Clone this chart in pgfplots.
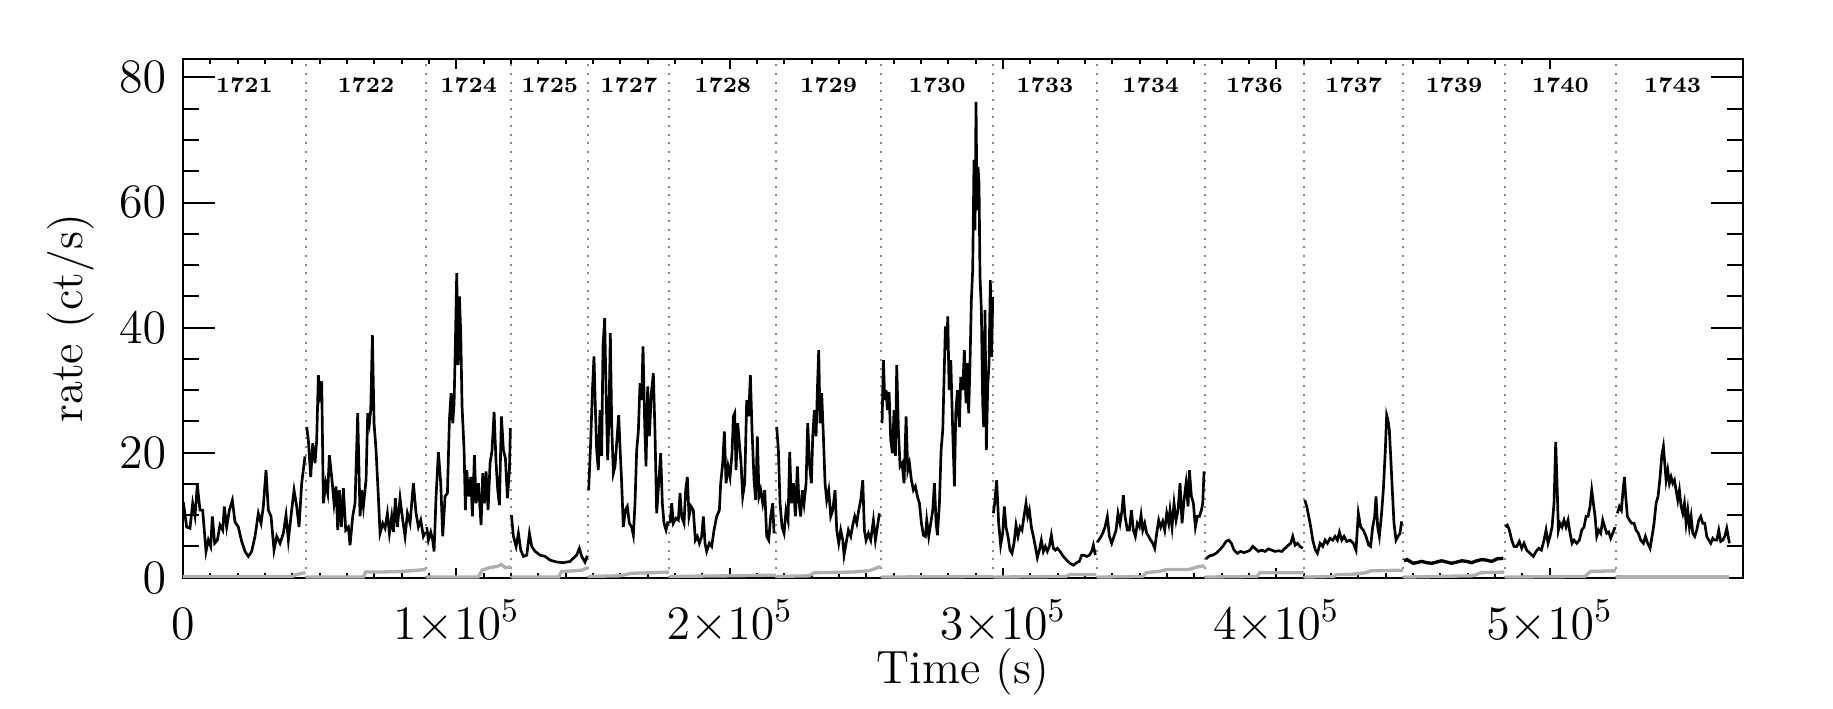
\documentclass[border=0pt]{standalone}
\usepackage{pgfplots}
\pgfplotsset{compat=1.18}
\definecolor{bkg}{RGB}{175,175,175}
\definecolor{sep}{RGB}{135,135,135}
\begin{document}
\begin{tikzpicture}
\useasboundingbox (-54.9pt,-39.1pt) rectangle (495pt,173.3pt);
\begin{axis}[
  scale only axis, width=468pt, height=155.7pt,
  xmin=0, xmax=570800, ymin=0, ymax=83,
  xtick={0,100000,200000,300000,400000,500000},
  xticklabels={$0$,$1{\times}10^5$,$2{\times}10^5$,$3{\times}10^5$,$4{\times}10^5$,$5{\times}10^5$},
  ytick={0,20,40,60,80}, minor x tick num=9, minor y tick num=3,
  tick align=inside,
  axis line style={line width=0.6pt},
  every tick/.append style={black, line width=0.6pt},
  xtick style={/pgfplots/major tick length=3pt, /pgfplots/minor tick length=1.5pt},
  ytick style={/pgfplots/major tick length=9.6pt, /pgfplots/minor tick length=4.8pt},
  tick label style={font=\fontsize{14}{16}\selectfont},
  xticklabel style={anchor=base, yshift=-18.5pt},
  yticklabel style={xshift=-1.5pt},
  xlabel={Time (s)}, ylabel={rate (ct/s)},
  label style={font=\fontsize{14}{16}\selectfont},
  xlabel style={at={(axis description cs:0.5,-0.182)}, anchor=center},
  ylabel style={at={(axis description cs:-0.072,0.5)}, anchor=center},
  clip=false]

% obsid boundaries
\pgfplotsinvokeforeach{44900,89000,120100,148300,178000,217000,255400,296400,334300,373900,410200,446500,483600,524400}{
  \addplot[sep, line width=0.6pt, dash pattern=on 0.6pt off 2pt] coordinates {(#1,0) (#1,83)};}

% background
\addplot[bkg, line width=1pt] coordinates {(0,0.2)(40000,0.2)(41500,0.5)(44800,0.8)};
\addplot[bkg, line width=1pt] coordinates {(45000,0.1)(66000,0.1)(66800,0.9)(72000,0.9)(80000,1.0)(88900,1.3)};
\addplot[bkg, line width=1pt] coordinates {(89100,0.1)(108000,0.1)(109500,1.2)(112000,1.6)(115000,1.8)(116500,2.1)(118000,1.6)(120000,1.7)};
\addplot[bkg, line width=1pt] coordinates {(120200,0.1)(137500,0.1)(138500,1.0)(143000,1.1)(146000,1.2)(148200,1.6)};
\addplot[bkg, line width=1pt] coordinates {(148400,0.2)(160000,0.3)(164000,0.7)(172000,0.8)(177900,0.9)};
\addplot[bkg, line width=1pt] coordinates {(178100,0.2)(200000,0.3)(216900,0.4)};
\addplot[bkg, line width=1pt] coordinates {(217100,0.2)(229000,0.3)(231000,0.8)(245000,0.9)(251000,1.1)(255300,1.8)};
\addplot[bkg, line width=1pt] coordinates {(255500,0.1)(296300,0.2)};
\addplot[bkg, line width=1pt] coordinates {(296500,0.1)(323000,0.2)(324500,0.5)(334200,0.5)};
\addplot[bkg, line width=1pt] coordinates {(334400,0.1)(351000,0.2)(352600,0.8)(357000,1.0)(360000,1.3)(368000,1.3)(371000,1.7)(373800,1.9)};
\addplot[bkg, line width=1pt] coordinates {(374000,0.1)(393000,0.2)(394000,0.8)(410100,0.8)};
\addplot[bkg, line width=1pt] coordinates {(410300,0.1)(421000,0.2)(422000,0.5)(427000,0.5)(433000,0.8)(434500,1.1)(446400,1.2)};
\addplot[bkg, line width=1pt] coordinates {(446600,0.1)(472000,0.3)(475000,0.8)(483500,0.9)};
\addplot[bkg, line width=1pt] coordinates {(483700,0.1)(513000,0.2)(515000,1.0)(524300,1.1)};
\addplot[bkg, line width=1pt] coordinates {(524500,0.1)(565800,0.1)};

% source rate, one piece per obsid
\addplot[black, line width=0.8pt] coordinates {(120,12.1)(1340,8.1)(2560,7.9)(3540,11.9)(4390,9.9)(5250,14.8)(6220,10.8)(7200,10.8)(8420,4.2)(9270,6.0)(10130,5.0)(10740,9.8)(11590,5.5)(12570,6.0)(13540,8.4)(14520,7.6)(15130,11.4)(15980,8.1)(16960,10.8)(18060,12.4)(19030,8.9)(20250,8.1)(21470,5.8)(22690,4.2)(23910,3.4)(25130,4.2)(26350,6.6)(27570,10.3)(28550,8.7)(29400,11.4)(30380,17.2)(31230,10.8)(32210,9.8)(33310,4.4)(34280,6.6)(35500,5.5)(36720,7.1)(37700,10.0)(38550,6.0)(39770,10.8)(40630,14.0)(41600,11.4)(42460,8.1)(43430,15.1)(44650,19.4)};
\addplot[black, line width=0.8pt] coordinates {(45260,24.1)(45870,22.0)(46730,16.1)(47460,21.5)(48310,18.3)(48920,22.0)(49530,32.4)(50140,29.5)(50750,31.4)(51360,11.9)(52220,15.1)(52950,13.5)(53560,19.6)(54410,16.1)(55270,11.9)(56000,14.6)(56610,7.6)(57220,14.0)(57950,8.1)(58680,14.3)(59540,7.6)(60510,8.1)(61120,5.2)(62100,9.8)(62950,11.9)(63930,26.3)(64780,9.8)(65390,14.0)(66000,11.4)(66980,15.6)(67590,26.3)(68200,24.7)(68690,26.8)(69300,38.8)(69910,24.7)(70640,20.4)(71370,14.0)(72100,7.1)(73080,8.7)(73930,7.9)(74790,10.3)(75520,7.1)(76370,9.8)(76980,7.3)(77710,12.7)(78450,8.1)(79420,12.7)(80400,9.2)(81250,6.6)(82110,10.3)(83080,8.7)(84300,15.1)(85280,10.3)(86130,8.1)(86990,9.2)(87960,6.6)(88690,7.3)};
\addplot[black, line width=0.8pt] coordinates {(89180,8.1)(89790,6.0)(90650,7.3)(91380,6.0)(91870,4.2)(92600,13.0)(93450,20.1)(94310,15.1)(95040,6.6)(95890,13.0)(96750,13.5)(97480,25.2)(98090,29.5)(98700,24.7)(99190,27.9)(99670,37.5)(100160,48.7)(100650,34.0)(101140,45.0)(101630,39.1)(102110,27.4)(102850,20.4)(103330,10.8)(103820,17.2)(104550,13.0)(105290,16.1)(105900,9.8)(106630,19.6)(107240,11.9)(108090,15.1)(109070,8.4)(109680,16.7)(110290,11.9)(110900,17.0)(111630,10.8)(112360,18.3)(113090,20.4)(113830,26.5)(114560,18.3)(115170,14.0)(115780,11.6)(116510,25.8)(117240,20.4)(117970,19.1)(118710,12.7)(119440,17.2)(119800,23.9)};
\addplot[black, line width=0.8pt] coordinates {(120170,10.0)(120900,6.6)(121880,5.0)(122730,7.1)(123590,4.4)(124560,3.4)(125780,3.6)(126760,7.1)(127610,5.0)(128830,4.2)(130660,3.6)(132490,3.4)(134320,2.8)(136760,2.5)(139200,2.4)(141640,2.6)(142820,3.1)(144040,3.6)(145020,4.7)(145870,3.4)(147090,2.5)(147930,3.5)};
\addplot[black, line width=0.8pt] coordinates {(148430,14.0)(149160,21.5)(149770,29.5)(150380,35.4)(150870,27.4)(151360,20.4)(151970,17.2)(152580,26.8)(153190,19.5)(153680,37.0)(154290,41.5)(154780,30.0)(155390,18.8)(155870,25.8)(156360,39.1)(156850,24.7)(157460,16.7)(158070,17.8)(158680,21.5)(159410,26.0)(159900,21.0)(160510,15.1)(161120,8.1)(161850,10.8)(162580,11.4)(163320,8.7)(164170,8.1)(164780,6.8)(165390,11.9)(166000,20.4)(166610,23.4)(167220,31.1)(167830,28.4)(168320,37.0)(168930,24.7)(169420,17.8)(170030,30.6)(170640,22.6)(171370,29.5)(172100,32.7)(172710,23.1)(173320,10.3)(174050,15.1)(174780,19.9)(175390,11.9)(176000,8.7)(176740,7.6)(177470,9.0)};
\addplot[black, line width=0.8pt] coordinates {(178200,8.7)(178810,11.9)(179420,8.7)(180400,9.5)(181250,9.2)(181860,13.5)(182470,9.8)(183320,8.7)(183930,14.0)(184540,16.1)(185150,9.8)(185890,11.4)(186740,10.8)(187470,6.0)(188200,6.6)(188940,5.5)(189790,6.6)(190400,9.8)(191010,5.5)(191620,4.2)(192600,5.5)(193450,5.0)(194300,7.6)(195280,9.8)(196260,10.8)(196740,15.1)(197480,18.3)(198090,23.4)(198700,15.1)(199430,17.8)(200160,16.1)(200890,19.9)(201380,25.8)(201870,26.3)(202360,17.2)(202970,24.7)(203580,21.5)(204190,18.3)(204800,13.0)(205530,15.1)(206260,28.4)(206990,25.8)(207600,32.4)(208210,23.6)(208940,15.6)(209550,12.4)(210160,22.6)(210770,13.0)(211380,14.0)(212120,11.9)(212850,14.0)(213580,6.6)(214310,6.0)(215040,9.8)(215780,11.9)(216260,7.1)};
\addplot[black, line width=0.8pt] coordinates {(217240,24.1)(217850,20.4)(218460,11.9)(219190,8.1)(219920,7.1)(220660,10.8)(221390,9.2)(222000,20.1)(222610,11.9)(223340,15.1)(224070,9.8)(224800,17.8)(225410,11.9)(226020,9.8)(226630,14.0)(227240,11.9)(227980,15.1)(228590,24.7)(229200,18.3)(229930,15.1)(230420,22.6)(231030,26.8)(231640,22.6)(232120,30.0)(232610,36.4)(233100,24.7)(233710,29.5)(234320,22.6)(234930,15.1)(235540,12.4)(236270,14.0)(237000,9.8)(237740,10.8)(238590,14.0)(239200,7.6)(239930,5.5)(240660,7.6)(241400,6.0)(241880,3.6)(242620,5.5)(243470,7.6)(244320,6.6)(245060,8.4)(245790,9.8)(246520,8.7)(247250,10.8)(247980,12.4)(248720,15.6)(249330,7.6)(249940,6.0)(250790,7.1)(251640,6.0)(252620,9.2)(253350,6.0)(254080,8.1)(254820,10.3)};
\addplot[black, line width=0.8pt] coordinates {(255790,24.7)(256280,34.8)(256770,28.4)(257260,30.0)(257740,26.8)(258350,29.7)(258960,22.0)(259570,19.9)(260180,26.8)(260670,19.5)(261160,34.0)(261770,23.6)(262380,17.8)(263110,18.3)(263840,15.1)(264580,25.8)(265190,17.2)(265800,18.3)(266530,15.6)(267260,14.0)(267990,14.6)(268720,13.0)(269460,11.9)(270190,8.7)(270920,6.8)(271650,6.6)(272140,9.2)(272870,6.6)(273600,8.7)(274340,10.8)(274950,15.1)(275560,8.7)(276040,6.8)(276780,11.9)(277390,20.4)(278000,23.6)(278480,32.1)(278970,40.2)(279460,36.4)(279830,41.8)(280320,30.0)(280930,34.8)(281660,23.1)(282270,14.6)(282750,26.3)(283360,30.0)(284090,24.1)(284580,32.1)(285310,30.0)(285900,36.4)(286510,27.9)(286990,34.3)(287480,26.3)(287970,34.3)(288460,44.4)(288950,49.2)(289430,66.8)(289800,55.6)(290170,76.1)(290530,58.8)(290900,65.7)(291260,63.1)(291630,48.1)(292120,42.8)(292610,27.9)(292970,24.1)(293460,42.8)(293950,20.4)(294440,30.5)(294930,34.3)(295410,47.6)(295900,35.3)(296270,44.9)};
\addplot[black, line width=0.8pt] coordinates {(296500,10.3)(296990,11.9)(297720,15.6)(298450,8.7)(299180,5.2)(299920,7.1)(300530,11.4)(301140,8.1)(301870,6.6)(302600,4.4)(303330,3.9)(304060,5.5)(304800,8.4)(305530,6.6)(306260,8.1)(306990,7.6)(307720,9.8)(308460,11.9)(309070,9.8)(309680,10.8)(310410,8.1)(311140,6.6)(311870,5.0)(312600,3.2)(313340,4.4)(314070,6.0)(314800,4.2)(315530,5.0)(316260,4.2)(317000,5.0)(317730,6.8)(318460,4.7)(319190,4.4)(319920,4.7)(320900,4.2)(322120,3.4)(323340,2.8)(324560,2.3)(325780,2.0)(327000,2.4)(327980,2.6)(328830,3.6)(329680,3.6)(330660,3.4)(331640,3.6)(332490,4.2)(333100,5.2)(333830,3.6)};
\addplot[black, line width=0.8pt] coordinates {(334560,5.7)(335540,6.3)(336520,7.1)(337370,8.1)(338220,9.8)(338960,6.6)(339810,5.5)(340660,6.6)(341400,7.6)(342130,10.3)(342860,8.7)(343590,10.8)(344080,13.2)(344690,9.8)(345540,7.6)(346280,7.6)(347010,10.8)(347740,7.6)(348470,6.6)(349200,8.7)(349940,8.1)(350550,10.0)(351160,7.6)(351890,8.7)(352620,7.1)(353350,6.6)(354080,6.0)(354820,5.5)(355550,4.7)(356280,7.1)(357010,9.2)(357740,8.1)(358480,9.0)(359210,7.6)(359940,10.3)(360670,8.7)(361160,10.8)(361890,8.1)(362620,11.9)(363360,9.2)(364090,10.8)(364820,15.1)(365550,8.7)(366280,12.4)(367020,15.1)(367750,11.4)(368240,17.2)(368970,13.0)(369700,11.9)(370430,8.1)(371160,9.8)(371900,9.8)(372630,10.8)(373120,11.9)(373600,17.0)};
\addplot[black, line width=0.8pt] coordinates {(374340,3.0)(375560,3.5)(376780,3.6)(378000,3.9)(379220,4.4)(380440,5.0)(381660,5.8)(382630,6.0)(383610,5.5)(384580,4.4)(385800,3.9)(387020,4.2)(388240,4.0)(389460,4.2)(390440,4.4)(391420,5.0)(392270,4.7)(393490,4.2)(394710,4.4)(395930,4.2)(397150,4.6)(398370,4.4)(399590,4.2)(400810,4.3)(402030,4.2)(403250,4.7)(404470,5.2)(405320,5.5)(406060,6.6)(406910,5.2)(407760,5.5)(408740,5.0)(409720,4.7)};
\addplot[black, line width=0.8pt] coordinates {(410450,12.4)(411180,11.4)(411910,9.8)(412640,8.1)(413380,6.0)(414350,4.4)(415080,3.9)(416060,5.5)(417040,5.0)(417890,6.0)(418740,5.5)(419720,6.3)(420700,6.0)(421550,6.6)(422400,6.0)(423140,7.3)(423990,6.0)(424840,6.6)(425820,5.8)(427040,6.0)(428220,5.5)(429200,4.4)(430050,10.3)(430900,8.1)(431880,7.6)(432860,6.6)(433830,5.2)(434560,5.0)(435300,8.1)(436030,9.8)(436520,13.0)(437130,8.1)(437740,6.6)(438470,9.8)(439200,14.0)(439930,20.4)(440420,26.0)(440910,25.2)(441400,23.6)(441880,19.5)(442490,14.0)(443100,8.7)(443840,6.0)(444570,6.6)(445300,7.1)(445910,9.0)};
\addplot[black, line width=1pt] coordinates {(446760,2.7)(447900,2.9)(448960,2.6)(450200,2.3)(451400,2.4)(453200,2.6)(455060,2.4)(456900,2.3)(458720,2.5)(460500,2.7)(462380,2.5)(464200,2.3)(466040,2.5)(467900,2.7)(469700,2.6)(471500,2.4)(473360,2.7)(475200,2.9)(477020,2.8)(478900,2.6)(480680,3.0)(483120,3.1)};
\addplot[black, line width=0.8pt] coordinates {(483850,8.1)(484580,8.4)(485320,7.6)(486170,6.0)(487020,5.0)(488000,5.0)(488980,5.8)(489830,4.7)(490680,5.5)(491660,4.4)(492880,3.9)(494100,3.4)(495080,4.2)(496050,4.7)(497030,4.4)(498000,6.0)(498740,7.6)(499470,5.5)(500200,6.6)(500930,8.1)(501660,11.9)(502270,21.7)(502760,15.1)(503250,7.6)(503860,8.7)(504590,8.1)(505320,9.2)(506060,8.1)(506790,9.2)(507520,7.1)(508250,5.5)(508980,6.0)(509960,5.5)(510940,6.0)(511790,7.6)(512640,8.1)(513380,9.8)(514110,9.8)(514840,11.4)(515450,14.0)(516060,11.9)(516670,9.8)(517280,6.6)(518010,7.6)(518740,7.1)(519480,9.2)(520210,8.1)(520940,7.1)(521670,7.3)(522400,6.3)(523140,7.1)(523990,8.1)};
\addplot[black, line width=0.8pt] coordinates {(524840,10.3)(525580,11.4)(526310,10.8)(526920,14.0)(527410,16.1)(527890,13.0)(528500,9.8)(529240,9.2)(530090,8.7)(530940,8.7)(531680,7.6)(532530,7.1)(533380,6.0)(534360,5.5)(535090,6.6)(535950,5.5)(536800,4.7)(537530,6.6)(538260,8.7)(539000,11.9)(539730,13.0)(540460,16.1)(541070,19.5)(541680,21.0)(542170,18.3)(542660,15.6)(543270,17.2)(543880,15.1)(544490,16.1)(545100,15.1)(545710,15.6)(546320,14.0)(546930,12.4)(547540,14.0)(548150,11.4)(548760,10.3)(549370,11.9)(549980,8.7)(550590,10.8)(551200,8.1)(551810,9.8)(552420,7.1)(553150,6.6)(553880,7.6)(554610,9.2)(555340,9.8)(556080,8.7)(556810,8.7)(557540,6.6)(558270,6.0)(559000,5.5)(559740,6.3)(560470,6.0)(561200,6.0)(561930,7.6)(562660,5.8)(563400,6.0)(564130,6.6)(564860,7.9)(565840,5.5)};

% obsid labels
\tikzset{obs/.style={font=\fontsize{6.6}{7}\selectfont\bfseries}}
\node[obs] at (axis cs:22450,78.8) {1721};
\node[obs] at (axis cs:66950,78.8) {1722};
\node[obs] at (axis cs:104550,78.8) {1724};
\node[obs] at (axis cs:134200,78.8) {1725};
\node[obs] at (axis cs:163150,78.8) {1727};
\node[obs] at (axis cs:197500,78.8) {1728};
\node[obs] at (axis cs:236200,78.8) {1729};
\node[obs] at (axis cs:275900,78.8) {1730};
\node[obs] at (axis cs:315350,78.8) {1733};
\node[obs] at (axis cs:354100,78.8) {1734};
\node[obs] at (axis cs:392050,78.8) {1736};
\node[obs] at (axis cs:428350,78.8) {1737};
\node[obs] at (axis cs:465050,78.8) {1739};
\node[obs] at (axis cs:504000,78.8) {1740};
\node[obs] at (axis cs:545050,78.8) {1743};
\end{axis}
\end{tikzpicture}
\end{document}
